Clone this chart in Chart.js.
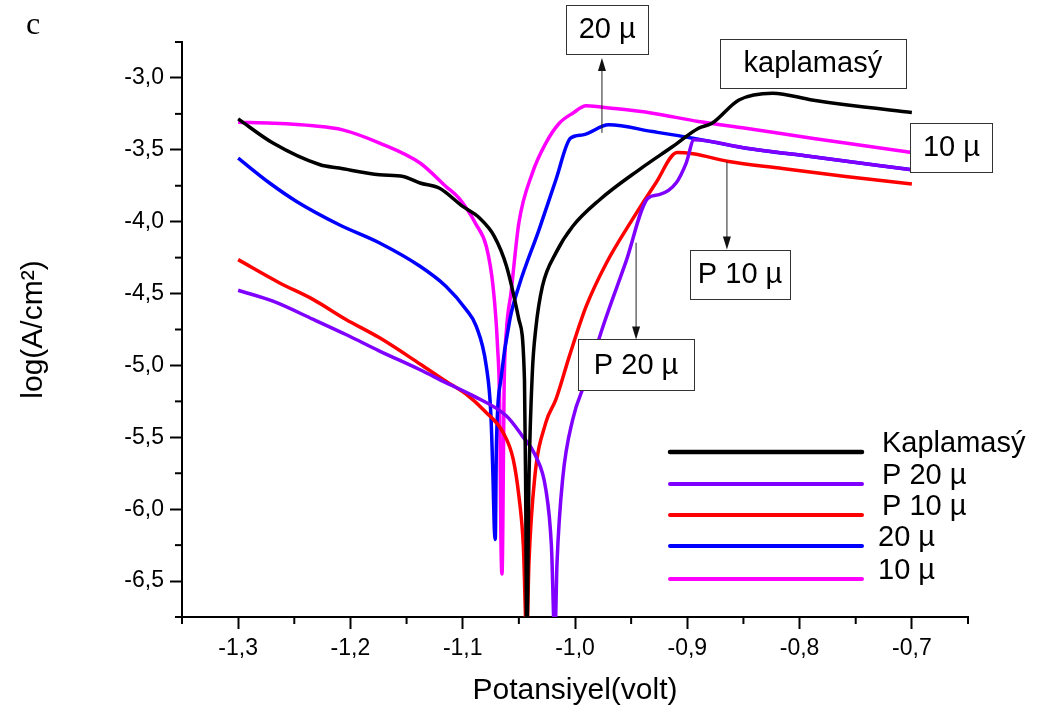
<!DOCTYPE html>
<html>
<head>
<meta charset="utf-8">
<script src="https://cdn.jsdelivr.net/npm/chart.js@4"></script>
<style>
  body { margin: 0; background: #fff; }
  #wrap { width: 1043px; height: 713px; position: relative; }
</style>
</head>
<body>
<div id="wrap"><canvas id="tafel" width="1043" height="713"></canvas></div>
<script>
// series names (legend order)
const seriesNames = ["Kaplamasý", "P 20 µ", "P 10 µ", "20 µ", "10 µ"];

// Kaplamasý (black)
const kapX = [-1.300,-1.269,-1.227,-1.210,-1.174,-1.153,-1.138,-1.121,-1.100,-1.085,-1.072,-1.061,-1.050,-1.045,-1.044,-1.043,-1.041,-1.038,-1.035,-1.029,-1.017,-1.002,-0.978,-0.943,-0.913,-0.890,-0.878,-0.854,-0.824,-0.789,-0.759,-0.700];
const kapY = [-3.285,-3.453,-3.604,-3.627,-3.674,-3.685,-3.731,-3.766,-3.894,-3.975,-4.10,-4.31,-4.68,-5.10,-5.79,-6.90,-5.79,-5.05,-4.75,-4.449,-4.217,-4.032,-3.847,-3.639,-3.477,-3.35,-3.315,-3.153,-3.106,-3.153,-3.187,-3.24];

// P 20 µ (purple)
const p20X = [-1.300,-1.269,-1.233,-1.204,-1.174,-1.138,-1.115,-1.091,-1.061,-1.047,-1.035,-1.026,-1.021,-1.018,-1.016,-1.011,-1.002,-0.990,-0.975,-0.955,-0.935,-0.925,-0.910,-0.901,-0.894,-0.850,-0.790,-0.700];
const p20Y = [-4.477,-4.553,-4.68,-4.785,-4.9,-5.03,-5.12,-5.21,-5.352,-5.49,-5.63,-5.861,-6.255,-6.90,-6.37,-5.79,-5.375,-5.097,-4.727,-4.287,-3.836,-3.812,-3.731,-3.592,-3.43,-3.485,-3.547,-3.639];

// P 10 µ (red)
const p10X = [-1.300,-1.263,-1.233,-1.204,-1.174,-1.138,-1.115,-1.097,-1.080,-1.064,-1.055,-1.050,-1.046,-1.043,-1.041,-1.036,-1.026,-1.017,-1.005,-0.990,-0.972,-0.949,-0.928,-0.909,-0.895,-0.863,-0.818,-0.759,-0.700];
const p10Y = [-4.264,-4.426,-4.542,-4.68,-4.808,-4.99,-5.11,-5.20,-5.32,-5.467,-5.653,-5.907,-6.255,-6.90,-6.37,-5.79,-5.398,-5.236,-4.935,-4.588,-4.287,-3.986,-3.731,-3.519,-3.528,-3.581,-3.627,-3.685,-3.738];

// 20 µ (blue)
const m20X = [-1.300,-1.272,-1.248,-1.210,-1.174,-1.138,-1.115,-1.097,-1.088,-1.079,-1.075,-1.073,-1.072,-1.071,-1.070,-1.066,-1.058,-1.050,-1.032,-1.017,-1.004,-0.993,-0.970,-0.931,-0.895,-0.850,-0.790,-0.700];
const m20Y = [-3.558,-3.731,-3.859,-4.021,-4.148,-4.31,-4.449,-4.611,-4.727,-5.005,-5.329,-5.79,-6.104,-6.21,-5.56,-5.097,-4.68,-4.449,-4.055,-3.708,-3.419,-3.396,-3.326,-3.373,-3.419,-3.485,-3.547,-3.639];

// 10 µ (magenta)
const m10X = [-1.300,-1.269,-1.233,-1.207,-1.174,-1.138,-1.115,-1.103,-1.088,-1.079,-1.073,-1.069,-1.067,-1.066,-1.065,-1.063,-1.061,-1.057,-1.050,-1.038,-1.026,-1.014,-1.002,-0.990,-0.967,-0.931,-0.890,-0.848,-0.789,-0.700];
const m10Y = [-3.308,-3.315,-3.333,-3.361,-3.453,-3.592,-3.755,-3.84,-4.02,-4.171,-4.449,-4.866,-5.329,-6.20,-6.45,-5.097,-4.75,-4.495,-4.009,-3.662,-3.453,-3.315,-3.245,-3.194,-3.211,-3.245,-3.303,-3.35,-3.419,-3.519];

const colors = ["#000000", "#7F00FF", "#FF0000", "#0000FF", "#FF00FF"];
const FONT = "'Liberation Sans', Arial, sans-serif";

function toPoints(xs, ys) {
  return xs.map((x, i) => ({ x: x, y: ys[i] }));
}

function isMajor(v, step) {
  let r = v / step;
  return Math.abs(r - Math.round(r)) < 1e-6;
}

function commaLabel(v) {
  return v.toFixed(1).replace(".", ",");
}

// text boxes with arrows, placed in data coordinates
const annotations = [
  { text: "20 µ", x: -0.9713, y: -2.66, w: 82, h: 49, arrowX: -0.976, from: -3.382, to: -2.861 },
  { text: "kaplamasý", x: -0.7882, y: -2.899, w: 186, h: 49 },
  { text: "10 µ", x: -0.6647, y: -3.483, w: 82, h: 49 },
  { text: "P 10 µ", x: -0.853, y: -4.365, w: 100, h: 49, arrowX: -0.8647, from: -3.583, to: -4.194 },
  { text: "P 20 µ", x: -0.9456, y: -4.996, w: 116, h: 51, arrowX: -0.9456, from: -4.146, to: -4.819 }
];

// minor ticks (shorter than the major ones)
const minorTicks = {
  id: "minorTicks",
  afterDraw(chart) {
    const ctx = chart.ctx;
    const xs = chart.scales.x, ys = chart.scales.y;
    ctx.save();
    ctx.strokeStyle = "#000";
    ctx.lineWidth = 2;
    xs.ticks.forEach(t => {
      if (isMajor(t.value, 0.1)) return;
      let px = xs.getPixelForValue(t.value);
      ctx.beginPath(); ctx.moveTo(px, xs.top); ctx.lineTo(px, xs.top + 7); ctx.stroke();
    });
    ys.ticks.forEach(t => {
      if (isMajor(t.value, 0.5)) return;
      let py = ys.getPixelForValue(t.value);
      ctx.beginPath(); ctx.moveTo(ys.right, py); ctx.lineTo(ys.right - 7, py); ctx.stroke();
    });
    ctx.restore();
  }
};

// boxed labels + arrows
const boxNotes = {
  id: "boxNotes",
  afterDraw(chart) {
    const ctx = chart.ctx;
    const xs = chart.scales.x, ys = chart.scales.y;
    ctx.save();
    annotations.forEach(a => {
      if (a.arrowX !== undefined) {
        let ax = xs.getPixelForValue(a.arrowX);
        let y0 = ys.getPixelForValue(a.from);
        let y1 = ys.getPixelForValue(a.to);
        let dir = y1 < y0 ? 1 : -1;
        ctx.strokeStyle = "#222";
        ctx.lineWidth = 1;
        ctx.beginPath(); ctx.moveTo(ax, y0); ctx.lineTo(ax, y1 + dir * 10); ctx.stroke();
        ctx.fillStyle = "#111";
        ctx.beginPath();
        ctx.moveTo(ax, y1);
        ctx.lineTo(ax - 4, y1 + dir * 13);
        ctx.lineTo(ax + 4, y1 + dir * 13);
        ctx.closePath();
        ctx.fill();
      }
      let cx = xs.getPixelForValue(a.x);
      let cy = ys.getPixelForValue(a.y);
      ctx.fillStyle = "#fff";
      ctx.fillRect(cx - a.w / 2, cy - a.h / 2, a.w, a.h);
      ctx.strokeStyle = "#333";
      ctx.lineWidth = 1;
      ctx.strokeRect(Math.round(cx - a.w / 2) + 0.5, Math.round(cy - a.h / 2) + 0.5, a.w, a.h);
      ctx.fillStyle = "#000";
      ctx.font = "29px " + FONT;
      ctx.textAlign = "center";
      ctx.textBaseline = "middle";
      ctx.fillText(a.text, cx, cy + 1);
    });
    // panel letter
    ctx.font = "32px 'Liberation Serif', 'Times New Roman', serif";
    ctx.textAlign = "left";
    ctx.textBaseline = "alphabetic";
    ctx.fillText("c", 26, 34);
    ctx.restore();
  }
};

// legend inside the plot, bottom right
const innerLegend = {
  id: "innerLegend",
  afterDraw(chart) {
    const ctx = chart.ctx;
    const area = chart.chartArea;
    const rows = [452, 484, 515, 546, 579];
    ctx.save();
    chart.data.datasets.forEach((ds, i) => {
      let y = area.top + rows[i] - 42;
      ctx.strokeStyle = ds.borderColor;
      ctx.lineWidth = i === 0 ? 4.5 : 4;
      ctx.lineCap = "round";
      ctx.beginPath();
      ctx.moveTo(area.left + 488, y);
      ctx.lineTo(area.left + 680, y);
      ctx.stroke();
      ctx.fillStyle = "#000";
      ctx.font = "29px " + FONT;
      ctx.textAlign = "left";
      ctx.textBaseline = "middle";
      ctx.fillText(ds.label, area.left + (i < 3 ? 700 : 696), y - 8);
    });
    ctx.restore();
  }
};

const datasets = [
  toPoints(kapX, kapY), toPoints(p20X, p20Y), toPoints(p10X, p10Y),
  toPoints(m20X, m20Y), toPoints(m10X, m10Y)
].map((pts, i) => ({
  label: seriesNames[i],
  data: pts,
  borderColor: colors[i],
  backgroundColor: colors[i],
  borderWidth: 3.5,
  pointRadius: 0,
  showLine: true,
  cubicInterpolationMode: "monotone",
  clip: 0
}));

new Chart(document.getElementById("tafel"), {
  type: "scatter",
  data: { datasets },
  options: {
    responsive: false,
    devicePixelRatio: 1,
    animation: false,
    layout: { padding: { left: 0, top: 42, right: 75, bottom: 0 } },
    plugins: {
      legend: { display: false },
      tooltip: { enabled: false }
    },
    scales: {
      x: {
        type: "linear",
        min: -1.35,
        max: -0.65,
        afterFit: s => { s.height = 96; },
        border: { display: true, color: "#000", width: 2 },
        grid: {
          drawOnChartArea: false,
          tickLength: 12,
          tickWidth: 2,
          tickColor: c => isMajor(c.tick.value, 0.1) ? "#000" : "rgba(0,0,0,0)"
        },
        ticks: {
          stepSize: 0.05,
          autoSkip: false,
          maxRotation: 0,
          padding: 6,
          color: "#000",
          font: { family: FONT, size: 23 },
          callback: v => isMajor(v, 0.1) ? commaLabel(v) : ""
        },
        title: {
          display: true,
          text: "Potansiyel(volt)",
          color: "#000",
          font: { family: FONT, size: 30 },
          padding: { top: 0, bottom: 4 }
        }
      },
      y: {
        type: "linear",
        min: -6.75,
        max: -2.75,
        afterFit: s => { s.width = 182; },
        border: { display: true, color: "#000", width: 2 },
        grid: {
          drawOnChartArea: false,
          tickLength: 12,
          tickWidth: 2,
          tickColor: c => isMajor(c.tick.value, 0.5) ? "#000" : "rgba(0,0,0,0)"
        },
        ticks: {
          stepSize: 0.25,
          autoSkip: false,
          padding: 6,
          color: "#000",
          font: { family: FONT, size: 23 },
          callback: v => isMajor(v, 0.5) ? commaLabel(v) : ""
        },
        title: {
          display: true,
          text: "log(A/cm²)",
          color: "#000",
          font: { family: FONT, size: 30 },
          padding: { top: 16, bottom: 0 }
        }
      }
    }
  },
  plugins: [minorTicks, boxNotes, innerLegend]
});
</script>
</body>
</html>
